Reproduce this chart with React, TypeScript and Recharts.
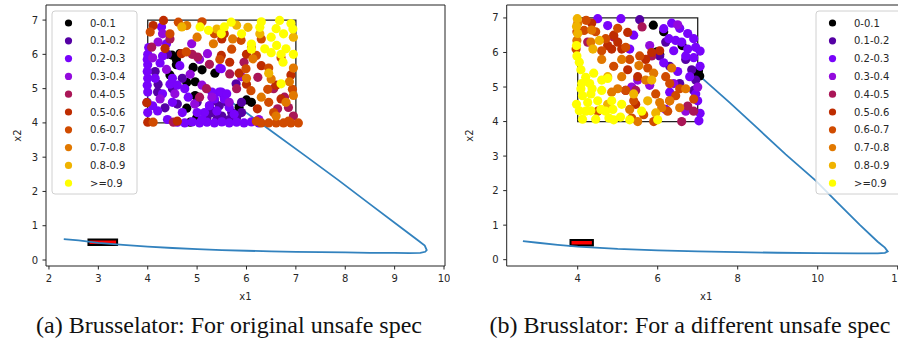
import React from "react";
import { ScatterChart, Scatter, XAxis, YAxis, ReferenceArea } from "recharts";

// ---------- categories / colours ----------
const binLabels = ["0-0.1", "0.1-0.2", "0.2-0.3", "0.3-0.4", "0.4-0.5", "0.5-0.6", "0.6-0.7", "0.7-0.8", "0.8-0.9", ">=0.9"];
const binColors = ["#000000", "#5500a4", "#7803fb", "#930add", "#aa1657", "#be2c00", "#d04b00", "#e17800", "#f0b300", "#ffff00"];

// ---------- left plot (a) ----------
const leftXTicks = [2, 3, 4, 5, 6, 7, 8, 9, 10];
const leftYTicks = [0, 1, 2, 3, 4, 5, 6, 7];
const leftXDomain = [1.94, 10.02];
const leftYDomain = [-0.175, 7.44];
const leftInitBox = [2.8, 3.38, 0.44, 0.6];
const leftUnsafeBox = [4, 7, 4, 7];

const leftCurve = [
  [2.3, 0.61], [2.6, 0.57], [3.0, 0.5], [3.5, 0.44], [4.0, 0.39], [4.5, 0.35], [5.0, 0.32], [5.5, 0.29],
  [6.0, 0.27], [6.5, 0.25], [7.0, 0.24], [7.5, 0.23], [8.0, 0.22], [8.5, 0.21], [9.0, 0.21], [9.3, 0.2],
  [9.52, 0.21], [9.62, 0.24], [9.65, 0.29], [9.61, 0.42], [9.45, 0.6], [9.08, 1.0], [8.5, 1.63],
  [7.86, 2.33], [7.2, 3.03], [6.55, 3.71], [5.93, 4.37], [5.6, 4.7],
];

const leftBin0 = [
  [4.49, 5.98], [4.58, 5.85], [4.65, 6.02], [4.58, 5.7], [4.92, 5.62], [5.36, 5.45], [4.96, 5.2], [4.79, 5.18],
  [4.96, 4.8], [4.79, 4.43], [4.99, 4.14], [5.27, 4.4], [6.0, 4.67], [6.1, 4.6], [5.85, 4.45], [4.86, 4.02],
  [4.45, 5.4], [5.1, 5.55],
];
const leftBin1 = [
  [5.3, 4.3], [5.45, 4.5], [5.6, 4.6], [5.5, 4.2], [5.7, 4.3], [5.4, 4.1], [5.8, 4.15], [5.25, 4.5],
  [5.55, 4.75], [4.15, 5.5], [4.21, 5.13], [4.35, 4.44], [4.6, 4.55], [5.79, 5.14], [4.4, 6.0], [5.0, 4.6],
  [4.7, 5.3], [5.9, 4.6], [5.35, 4.65], [5.65, 4.1], [4.2, 4.9], [4.5, 5.0], [5.2, 4.15], [5.9, 4.3],
];
const leftBin2 = [
  [4.0, 4.3], [3.99, 4.6], [4.0, 4.9], [3.99, 5.1], [4.0, 5.3], [3.99, 5.5], [4.0, 5.7], [3.99, 5.85],
  [4.0, 6.0], [4.02, 6.2], [4.6, 4.02], [4.75, 4.0], [4.9, 4.03], [5.05, 4.0], [5.2, 4.02], [5.35, 4.0],
  [5.5, 4.03], [5.65, 4.0], [5.8, 4.02], [5.95, 4.0], [6.1, 4.03], [6.25, 4.0], [5.45, 4.9], [5.35, 4.7],
  [5.55, 4.7], [5.25, 4.5], [5.65, 4.45], [5.15, 4.3], [5.75, 4.25], [4.38, 6.31], [4.28, 6.8], [4.65, 5.67],
  [4.45, 5.13], [4.6, 5.1], [5.46, 5.59], [4.5, 4.6], [4.82, 4.75], [5.49, 5.58], [5.49, 4.9], [4.3, 4.85],
  [4.75, 5.0], [5.0, 4.3], [4.2, 4.35], [5.1, 4.1], [5.4, 4.35], [4.15, 5.3], [4.25, 5.75], [4.1, 4.5],
  [4.3, 5.95], [4.5, 5.3], [4.7, 4.3], [4.4, 4.1], [5.6, 4.85], [5.3, 4.9],
];
const leftBin3 = [
  [4.21, 6.36], [4.89, 6.31], [5.21, 6.02], [4.38, 5.56], [4.86, 5.42], [5.1, 5.1], [4.95, 4.55], [4.55, 4.85],
  [4.25, 4.7], [5.9, 5.35], [5.65, 4.6], [4.1, 5.9], [4.3, 6.6], [5.05, 5.85], [5.3, 4.75], [6.25, 4.1],
];
const leftBin4 = [
  [4.08, 6.21], [5.01, 5.92], [5.25, 5.71], [5.19, 5.0], [4.52, 4.02], [5.66, 5.43], [5.95, 5.77], [6.23, 5.33],
  [6.77, 4.75], [6.63, 4.41], [6.85, 4.45], [4.9, 6.0], [6.55, 5.0], [5.05, 4.75], [4.45, 6.45], [5.8, 5.0],
  [6.95, 4.2],
];
const leftBin5 = [
  [4.11, 6.84], [4.32, 6.99], [4.35, 6.17], [4.68, 6.02], [3.98, 4.59], [4.6, 4.05], [5.49, 5.97], [5.66, 5.77],
  [6.3, 5.67], [5.85, 5.45], [5.5, 6.45], [6.0, 5.13], [6.22, 4.41], [4.0, 4.02], [6.9, 5.4], [5.55, 6.6],
  [6.6, 5.1], [6.0, 6.0], [6.7, 4.7],
];
const leftBin6 = [
  [4.62, 6.94], [4.05, 6.65], [4.78, 6.07], [5.46, 5.85], [5.89, 6.41], [6.2, 5.97], [6.45, 5.6], [5.99, 5.58],
  [6.09, 4.94], [6.43, 4.98], [6.93, 4.98], [6.45, 4.6], [4.11, 4.02], [6.3, 4.0], [6.45, 4.0], [6.6, 4.0],
  [6.75, 4.0], [6.9, 4.0], [7.05, 4.0], [6.2, 4.05], [6.85, 4.05], [5.1, 6.95], [6.7, 5.9], [5.35, 6.6],
  [5.7, 6.15], [6.3, 6.45], [6.55, 4.3], [4.45, 6.6],
];
const leftBin7 = [
  [4.79, 6.84], [5.33, 6.31], [5.72, 6.45], [6.13, 5.87], [6.87, 5.2], [6.5, 5.28], [6.3, 4.75], [6.95, 4.8],
  [6.6, 4.2], [5.0, 6.5], [6.1, 6.2], [6.8, 4.6], [6.0, 5.3], [6.95, 5.6],
];
const leftBin8 = [
  [4.69, 6.8], [5.4, 6.74], [6.03, 6.79], [6.27, 6.6], [6.45, 5.45], [5.8, 6.85], [6.95, 6.5],
];
const leftBin9 = [
  [5.06, 6.8], [5.23, 6.7], [5.69, 6.94], [6.27, 6.79], [6.67, 6.99], [6.6, 6.75], [6.75, 6.6], [6.94, 6.74],
  [5.49, 6.6], [6.1, 6.3], [6.1, 6.15], [6.37, 6.16], [6.61, 6.26], [6.8, 6.16], [6.7, 6.0], [6.74, 5.77],
  [6.95, 6.0], [6.7, 5.14], [5.9, 6.6], [6.5, 6.5], [5.55, 6.8], [6.3, 6.95], [6.9, 6.9], [6.5, 6.05],
];
const leftBins = [leftBin0, leftBin1, leftBin2, leftBin3, leftBin4, leftBin5, leftBin6, leftBin7, leftBin8, leftBin9];

// ---------- right plot (b) ----------
const rightXTicks = [4, 6, 8, 10, 12];
const rightYTicks = [0, 1, 2, 3, 4, 5, 6, 7];
const rightXDomain = [2.225, 12.2];
const rightYDomain = [-0.183, 7.375];
const rightInitBox = [3.82, 4.38, 0.41, 0.57];
const rightUnsafeBox = [4, 7, 4, 7];

const rightCurve = [
  [2.63, 0.54], [3.0, 0.49], [3.5, 0.43], [4.0, 0.38], [5.0, 0.31], [6.0, 0.27], [7.0, 0.24], [8.0, 0.22],
  [9.0, 0.2], [10.0, 0.19], [11.0, 0.18], [11.5, 0.18], [11.68, 0.2], [11.75, 0.24], [11.68, 0.35],
  [11.5, 0.52], [11.06, 1.0], [10.45, 1.7], [9.95, 2.29], [9.2, 3.05], [8.5, 3.8], [7.8, 4.55],
  [7.06, 5.31], [6.9, 5.5],
];

const rightBin0 = [
  [5.89, 6.79], [6.15, 6.6], [5.98, 6.02], [6.05, 5.95], [6.61, 6.2], [7.02, 5.47], [7.05, 5.32], [7.0, 5.4],
];
const rightBin1 = [
  [6.2, 6.3], [5.9, 5.95], [6.05, 5.9], [6.55, 5.1], [6.9, 4.9], [6.85, 5.5], [6.3, 5.6], [6.7, 5.8],
  [5.55, 6.95], [6.95, 5.2],
];
const rightBin2 = [
  [4.5, 6.98], [4.75, 6.78], [5.08, 6.98], [5.4, 6.5], [6.15, 6.69], [6.35, 6.85], [6.55, 6.7], [6.28, 6.4],
  [6.45, 6.35], [6.6, 6.3], [6.75, 6.55], [6.75, 6.1], [6.7, 5.9], [6.9, 5.85], [6.95, 6.15], [7.06, 6.04],
  [7.06, 5.6], [7.06, 4.24], [6.15, 5.7], [6.8, 5.3], [6.3, 4.85], [6.2, 4.35], [7.03, 4.02], [7.0, 4.6],
  [6.9, 6.4], [5.3, 6.1], [6.5, 5.45], [6.95, 4.8], [6.4, 6.05],
];
const rightBin3 = [
  [5.8, 6.2], [5.8, 5.05], [6.4, 5.1], [5.35, 5.0], [6.5, 6.8], [5.5, 5.2], [6.7, 4.3], [7.0, 5.0],
];
const rightBin4 = [
  [5.61, 6.74], [4.9, 6.45], [5.85, 5.9], [5.45, 4.9], [6.75, 4.45], [6.9, 4.3], [5.2, 4.9], [4.25, 6.3], [6.6, 4.0],
];
const rightBin5 = [
  [4.9, 6.5], [5.25, 6.58], [4.85, 6.1], [4.75, 6.2], [5.1, 6.1], [5.25, 5.5], [5.5, 5.3], [6.05, 6.05],
  [5.85, 6.0], [4.35, 6.85], [6.3, 4.6], [5.45, 4.5], [5.0, 6.3], [5.7, 5.8],
];
const rightBin6 = [
  [4.21, 6.93], [4.16, 6.64], [4.45, 6.6], [3.96, 6.1], [4.6, 6.05], [5.2, 6.15], [5.0, 6.7], [5.2, 4.9],
  [5.4, 4.6], [5.55, 5.9], [5.75, 5.55], [6.3, 5.1], [6.55, 4.95], [5.95, 4.8], [6.25, 4.3], [5.9, 4.0],
  [6.45, 4.75], [5.35, 4.1], [4.5, 4.3], [3.98, 6.6], [6.9, 4.65], [4.7, 6.4], [5.3, 5.8], [6.2, 5.3],
  [5.65, 4.2], [4.9, 5.6],
];
const rightBin7 = [
  [4.33, 6.3], [4.6, 5.8], [5.1, 5.3], [5.0, 4.95], [4.85, 4.85], [5.3, 4.35], [5.53, 5.62], [5.7, 5.2],
  [5.9, 5.4], [6.35, 5.55], [6.7, 4.95], [6.05, 4.55], [6.3, 4.6], [6.1, 4.4], [5.5, 4.0], [4.0, 6.85], [3.98, 6.35],
  [4.35, 6.65], [5.1, 5.8], [6.55, 4.4],
];
const rightBin8 = [
  [3.99, 6.98], [4.54, 6.35], [4.38, 6.1], [4.75, 5.3], [5.4, 4.8], [4.75, 4.5], [5.85, 5.2], [5.75, 4.6],
  [3.97, 6.75], [4.0, 6.55], [5.95, 4.25],
];
const rightBin9 = [
  [4.04, 5.72], [4.08, 5.5], [4.2, 5.28], [4.4, 5.4], [4.6, 5.2], [4.75, 5.25], [4.08, 4.95], [4.36, 4.95],
  [4.6, 4.9], [4.12, 4.75], [4.33, 4.8], [4.85, 4.6], [4.04, 4.31], [4.33, 4.31], [4.58, 4.35], [4.88, 4.35],
  [4.12, 4.07], [4.45, 4.07], [4.78, 4.1], [5.07, 4.13], [3.97, 4.5], [5.6, 4.3], [6.0, 4.05], [3.98, 5.9],
  [3.97, 6.2], [4.1, 5.1], [5.1, 4.5], [4.9, 4.05], [4.25, 4.55], [4.3, 5.1], [4.5, 4.6], [4.7, 4.3],
  [5.3, 4.05], [4.2, 4.3],
];
const rightBins = [rightBin0, rightBin1, rightBin2, rightBin3, rightBin4, rightBin5, rightBin6, rightBin7, rightBin8, rightBin9];

const captionA = "(a) Brusselator: For original unsafe spec";
const captionB = "(b) Brusslator: For a different unsafe spec";

// ---------- helpers ----------
const FONT = "'DejaVu Sans', sans-serif";
const INK = "#262626";
const toXY = (arr: number[][]) => arr.map(([x, y]) => ({ x, y }));

const Dot = (color: string) => (p: any) =>
  p.cx == null ? <g /> : <circle cx={p.cx} cy={p.cy} r={4.6} fill={color} />;

function Panel(props: any) {
  const { width, height, marginRight, yAxisWidth, xDomain, yDomain, xTicks, yTicks, curve, bins, initBox, unsafeBox, yLabelOffset } = props;
  return (
    <ScatterChart width={width} height={height} margin={{ top: 5, right: marginRight, bottom: 8, left: 0 }}>
      <XAxis
        type="number"
        dataKey="x"
        domain={xDomain}
        ticks={xTicks}
        allowDataOverflow
        axisLine={false}
        tickSize={3.5}
        tickMargin={5.5}
        height={36}
        tickLine={{ stroke: INK, strokeWidth: 1 }}
        tick={{ fontSize: 10, fill: INK, fontFamily: FONT }}
        interval={0}
        label={{ value: "x1", position: "insideBottom", offset: 2, style: { fontSize: 10, fill: INK, fontFamily: FONT } }}
      />
      <YAxis
        type="number"
        dataKey="y"
        domain={yDomain}
        ticks={yTicks}
        allowDataOverflow
        axisLine={false}
        tickSize={3.5}
        tickMargin={4.5}
        width={yAxisWidth}
        tickLine={{ stroke: INK, strokeWidth: 1 }}
        tick={{ fontSize: 10, fill: INK, fontFamily: FONT }}
        interval={0}
        label={{ value: "x2", angle: -90, position: "insideLeft", offset: yLabelOffset, style: { fontSize: 10, fill: INK, fontFamily: FONT, textAnchor: "middle" } }}
      />
      <Scatter
        data={toXY(curve)}
        line={{ stroke: "#3282be", strokeWidth: 1.8 }}
        lineType="joint"
        shape={() => <g />}
        legendType="none"
        isAnimationActive={false}
      />
      {bins.map((b: number[][], i: number) => (
        <Scatter key={i} name={binLabels[i]} data={toXY(b)} fill={binColors[i]} shape={Dot(binColors[i])} isAnimationActive={false} />
      ))}
      <ReferenceArea x1={unsafeBox[0]} x2={unsafeBox[1]} y1={unsafeBox[2]} y2={unsafeBox[3]} fill="none" stroke="#222" strokeWidth={1.3} ifOverflow="visible" />
      <ReferenceArea x1={initBox[0]} x2={initBox[1]} y1={initBox[2]} y2={initBox[3]} fill="#ff0000" fillOpacity={1} stroke="#000" strokeWidth={2} ifOverflow="visible" />
      <ReferenceArea x1={xDomain[0]} x2={xDomain[1]} y1={yDomain[0]} y2={yDomain[1]} fill="none" stroke="#222" strokeWidth={1} ifOverflow="visible" />
    </ScatterChart>
  );
}

function LegendBox({ left, top }: { left: number; top: number }) {
  const rowH = 17.8;
  return (
    <svg width={88} height={186} style={{ position: "absolute", left: left - 1, top: top - 1, overflow: "visible" }}>
      <rect x={1} y={1} width={85} height={183} rx={3} fill="rgba(255,255,255,0.8)" stroke="#d0d0d0" strokeWidth={1} />
      {binLabels.map((lab, i) => (
        <g key={lab}>
          <circle cx={17.5} cy={13 + i * rowH} r={3.6} fill={binColors[i]} />
          <text x={39} y={13 + i * rowH + 3.6} fontSize={10} fill={INK} fontFamily={FONT}>{lab}</text>
        </g>
      ))}
    </svg>
  );
}

const captionStyle: React.CSSProperties = {
  position: "absolute", top: 312, width: 440, textAlign: "center", whiteSpace: "nowrap",
  fontFamily: "'Liberation Serif', serif", fontSize: 24, lineHeight: "27px", color: "#111",
};

export default function App() {
  return (
    <div style={{ position: "absolute", left: 0, top: 0, width: 898, height: 347, overflow: "hidden", background: "#fff" }}>
      <div style={{ position: "absolute", left: 0, top: 0 }}>
        <Panel width={450} height={310} marginRight={5} yAxisWidth={46} xDomain={leftXDomain} yDomain={leftYDomain}
          xTicks={leftXTicks} yTicks={leftYTicks} curve={leftCurve} bins={leftBins} initBox={leftInitBox} unsafeBox={leftUnsafeBox} yLabelOffset={17} />
      </div>
      <LegendBox left={52} top={11} />
      <div style={{ position: "absolute", left: 450, top: 0 }}>
        <Panel width={460} height={310} marginRight={4.3} yAxisWidth={56.7} xDomain={rightXDomain} yDomain={rightYDomain}
          xTicks={rightXTicks} yTicks={rightYTicks} curve={rightCurve} bins={rightBins} initBox={rightInitBox} unsafeBox={rightUnsafeBox} yLabelOffset={19} />
      </div>
      <LegendBox left={816} top={11} />
      <div style={{ ...captionStyle, left: 229 - 220 }}>{captionA}</div>
      <div style={{ ...captionStyle, left: 690 - 220 }}>{captionB}</div>
    </div>
  );
}
